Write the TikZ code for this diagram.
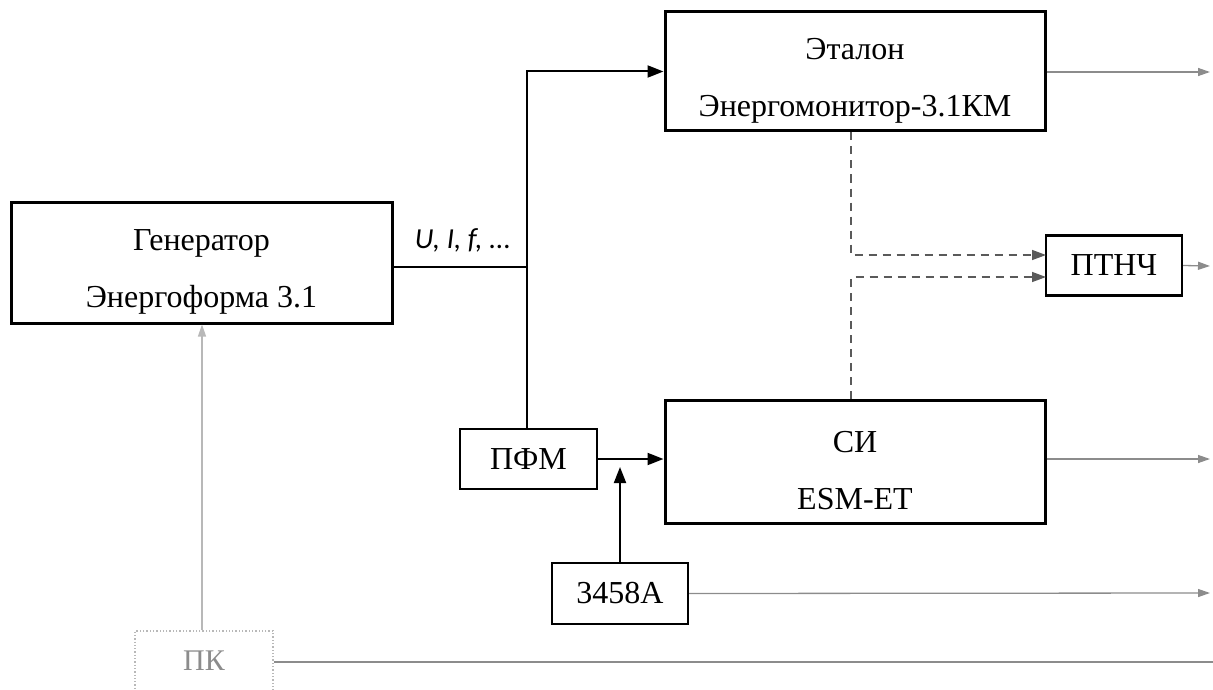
\documentclass[tikz,border=0pt]{standalone}
\usepackage{fontspec}
\setmainfont{Liberation Serif}
\newfontfamily\carl{Carlito}
\usetikzlibrary{arrows.meta}
\definecolor{lg}{HTML}{8C8C8C}
\definecolor{dg}{HTML}{5A5A5A}
\definecolor{pk}{HTML}{B8B8B8}
\newcommand{\tstrut}{\rule{0pt}{40pt}}
\tikzset{
  bigbox/.style={draw,line width=3pt,minimum width=#1,align=center,inner sep=0pt,font=\fontsize{32}{57}\selectfont},
  smallbox/.style={draw,line width=2.2pt,minimum width=136pt,minimum height=60pt,inner sep=0pt,font=\fontsize{32}{38}\selectfont},
  conn/.style={line width=2pt},
  arr/.style={conn,-{Triangle[length=16pt,width=12pt]}},
  gline/.style={draw=lg,line width=1.3pt},
  garr/.style={gline,-{Triangle[length=12pt,width=8pt]},lg},
  dline/.style={draw=dg,line width=1.5pt,dash pattern=on 8pt off 6pt},
  darr/.style={dline,-{Triangle[length=14pt,width=10pt]},dg}
}
\begin{document}
\begin{tikzpicture}[x=1pt,y=-1pt]
\useasboundingbox (0,0) rectangle (1213,690);
% boxes
\node[bigbox=381pt,minimum height=121pt] (gen) at (201.5,262.5) {\tstrut Генератор\\Энергоформа 3.1};
\node[bigbox=380pt,minimum height=119pt] (top) at (855,71.5) {\tstrut Эталон\\Энергомонитор-3.1КМ};
\node[bigbox=380pt,minimum height=123pt] (si) at (855,461.5) {\tstrut СИ\\ESM-ET};
\node[smallbox] (ptnch) at (1114,265.5) {ПТНЧ};
\node[smallbox,minimum width=137pt] (pfm) at (528.5,459) {ПФМ};
\node[smallbox,minimum height=61pt] (hp) at (620,593.5) {3458A};
\node[draw=pk,line width=1.3pt,dotted,minimum width=138pt,minimum height=60pt,inner sep=0pt,text=lg,font=\fontsize{30}{35}\selectfont] (pc) at (204,661) {ПК};
\node[font=\carl\itshape\fontsize{29}{33}\selectfont,anchor=south] (lab) at (463,256) {U, I, f, ...};
% coordinates
\coordinate (j) at (527,267);
\coordinate (m) at (620,467);
\coordinate (d) at (851,0);
\coordinate (p1) at (1046,255);
\coordinate (p2) at (1046,277);
\coordinate (e1) at (1210,72);
\coordinate (e2) at (1210,266);
\coordinate (e3) at (1210,459);
\coordinate (e4) at (1210,593);
\coordinate (e5) at (1213,662);
% black connectors
\draw[conn] (gen.east |- j) -- (j);
\draw[arr] (pfm.north -| j) -- (j |- top.west) -- (top.west);
\draw[arr] (pfm.east) -- (pfm.east -| si.west);
\draw[arr] (hp.north) -- (m);
% dashed
\draw[darr] (d |- top.south) -- (d |- p1) -- (p1);
\draw[darr] (d |- si.north) -- (d |- p2) -- (p2);
% gray outputs
\draw[garr] (top.east |- e1) -- (e1);
\draw[garr] (ptnch.east) -- (e2);
\draw[garr] (si.east |- e3) -- (e3);
\draw[garr] (hp.east) -- (e4);
\draw[gline] (pc.east |- e5) -- (e5);
\draw[garr,draw=pk,pk] (pc.north -| 202,0) -- (gen.south -| 202,0);
\end{tikzpicture}
\end{document}
